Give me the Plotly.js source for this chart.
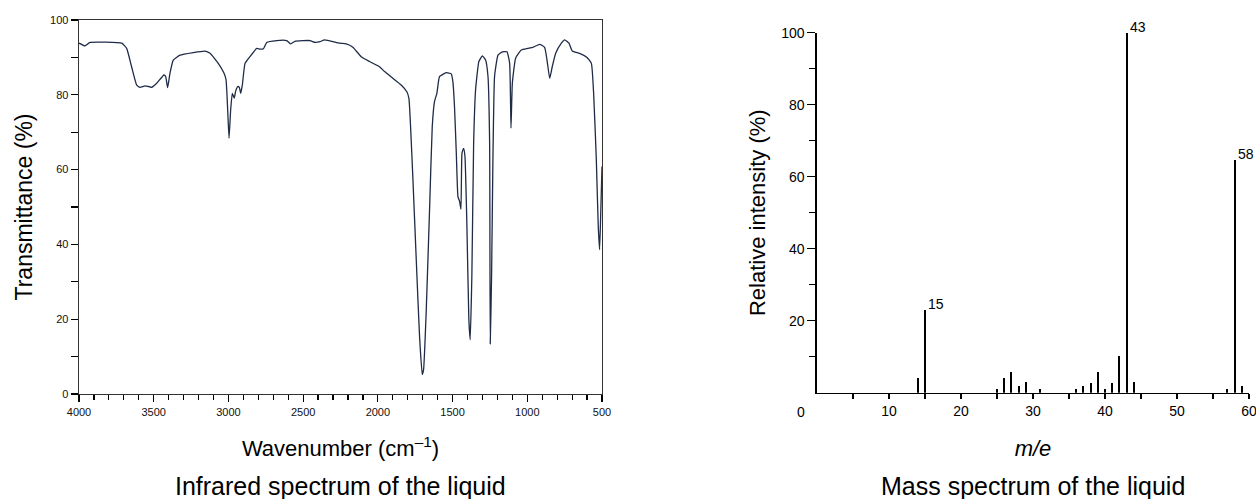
<!DOCTYPE html>
<html><head><meta charset="utf-8">
<script src="https://cdn.plot.ly/plotly-3.0.1.min.js"></script>
<style>html,body{margin:0;padding:0;background:#fff;}#chart{width:1256px;height:499px;}</style>
</head><body><div id="chart"></div>
<script>
// Infrared spectrum (wavenumber cm^-1, transmittance %)
var irWavenumber = [4000, 3960, 3926, 3714, 3681, 3648, 3614, 3592, 3558, 3514,
  3480, 3431, 3420, 3407, 3391, 3369, 3324, 3235, 3157, 3123,
  3068, 3030, 3016, 3005, 2996, 2985, 2974, 2961, 2952, 2938,
  2927, 2918, 2907, 2889, 2856, 2811, 2789, 2766, 2744, 2677,
  2610, 2583, 2555, 2454, 2421, 2387, 2357, 2257, 2212, 2167,
  2112, 2056, 1989, 1955, 1900, 1844, 1806, 1792, 1781, 1766,
  1743, 1721, 1703, 1694, 1676, 1654, 1636, 1621, 1605, 1587,
  1542, 1509, 1498, 1487, 1475, 1464, 1453, 1444, 1437, 1426,
  1417, 1404, 1391, 1382, 1371, 1359, 1346, 1324, 1301, 1279,
  1263, 1252, 1248, 1239, 1230, 1219, 1196, 1167, 1136, 1118,
  1109, 1100, 1078, 1040, 996, 962, 917, 884, 868, 850,
  833, 810, 772, 750, 721, 699, 650, 600, 571, 556,
  538, 525, 516, 509, 500];
var irTransmittance = [93.8, 93.1, 94.0, 93.8, 92.4, 87.5, 82.6, 82.0, 82.4, 82.0,
  83.1, 85.3, 84.9, 81.9, 85.8, 89.3, 90.6, 91.3, 91.7, 91.1,
  88.4, 85.8, 84.0, 76.0, 68.4, 76.0, 80.4, 79.1, 80.9, 82.2,
  82.0, 80.4, 82.6, 88.4, 90.2, 92.4, 92.2, 92.3, 94.0, 94.5,
  94.5, 93.6, 94.3, 94.5, 94.0, 94.2, 94.7, 93.8, 93.6, 92.7,
  90.2, 88.9, 87.5, 86.2, 84.4, 82.6, 80.8, 79.0, 71.5, 58.1,
  35.9, 15.4, 5.2, 6.5, 22.5, 49.3, 71.5, 78.2, 80.4, 84.9,
  85.9, 85.6, 83.5, 76.8, 64.4, 52.8, 51.5, 49.4, 64.4, 65.7,
  63.5, 44.8, 19.9, 14.5, 31.4, 67.1, 81.3, 88.9, 90.4, 89.3,
  84.9, 67.1, 13.4, 31.4, 62.7, 84.9, 90.6, 91.5, 91.5, 88.4,
  71.1, 83.1, 89.8, 92.0, 92.4, 92.7, 93.5, 92.7, 89.3, 84.4,
  87.5, 91.1, 93.8, 94.7, 93.8, 91.7, 91.1, 90.0, 88.4, 80.4,
  62.7, 44.8, 38.6, 47.5, 60.8];
var irTickVals = [4000, 3500, 3000, 2500, 2000, 1500, 1000, 500];
var irYTickVals = [0, 20, 40, 60, 80, 100];

// Mass spectrum (m/e, relative intensity %)
var msMass = [14, 15, 25, 26, 27, 28, 29, 31, 36, 37, 38, 39, 40, 41, 42, 43, 44, 57, 58, 59];
var msIntensity = [4.0, 23.0, 1.0, 4.0, 5.8, 1.9, 2.9, 1.0, 1.0, 1.9, 2.7, 5.8, 1.0, 2.7, 10.1, 100, 2.9, 1.0, 64.6, 1.9];
var msLabeled = [15, 43, 58];
var msXTickVals = [10, 20, 30, 40, 50, 60];
var msYTickVals = [20, 40, 60, 80, 100];

var W = 1256, H = 499;
function px(x){ return x / W; }
function py(y){ return (H - y) / H; }

var FONT = 'Liberation Sans, Arial, Helvetica, sans-serif';

var traces = [
  {
    type: 'scatter', mode: 'lines', x: irWavenumber, y: irTransmittance,
    line: {color: '#1f2b47', width: 1.3, shape: 'spline', smoothing: 0.4},
    xaxis: 'x', yaxis: 'y', hoverinfo: 'x+y', showlegend: false
  },
  {
    type: 'bar', x: msMass, y: msIntensity, width: 0.28,
    marker: {color: '#000', line: {width: 0}},
    xaxis: 'x2', yaxis: 'y2', showlegend: false
  }
];

var annotations = [];
msLabeled.forEach(function(m){
  var idx = msMass.indexOf(m);
  annotations.push({
    x: m, y: msIntensity[idx], xref: 'x2', yref: 'y2', text: String(m),
    showarrow: false, xanchor: 'left', yanchor: 'middle', xshift: 1, yshift: 6,
    font: {family: FONT, size: 14, color: '#000'}
  });
});
annotations.push({
  x: 0, y: py(412), xref: 'x2', yref: 'paper', text: '0', showarrow: false,
  xanchor: 'center', yanchor: 'middle', xshift: -16,
  font: {family: FONT, size: 14, color: '#000'}
});
annotations.push({
  x: px(340), y: py(486), xref: 'paper', yref: 'paper', text: 'Infrared spectrum of the liquid',
  showarrow: false, xanchor: 'center', yanchor: 'middle',
  font: {family: FONT, size: 25, color: '#000'}
});
annotations.push({
  x: px(1033), y: py(486), xref: 'paper', yref: 'paper', text: 'Mass spectrum of the liquid',
  showarrow: false, xanchor: 'center', yanchor: 'middle',
  font: {family: FONT, size: 25, color: '#000'}
});

var layout = {
  width: W, height: H,
  margin: {l: 0, r: 0, t: 0, b: 0},
  paper_bgcolor: '#fff', plot_bgcolor: '#fff',
  font: {family: FONT, color: '#000'},
  showlegend: false,
  bargap: 0,
  xaxis: {
    domain: [px(79), px(602)], anchor: 'y',
    range: [4000, 500], autorange: false,
    tickmode: 'array', tickvals: irTickVals,
    ticks: 'outside', ticklen: 7, tickwidth: 1.2, tickcolor: '#000',
    minor: {dtick: 100, tick0: 0, ticks: 'outside', ticklen: 5, tickwidth: 1.2, tickcolor: '#000', showgrid: false},
    showgrid: false, zeroline: false,
    showline: true, linecolor: '#333', linewidth: 1.4, mirror: true,
    tickfont: {family: FONT, size: 11, color: '#111'},
    title: {text: 'Wavenumber (cm<sup>\u20131</sup>)', font: {family: FONT, size: 22, color: '#000'}, standoff: 24}
  },
  yaxis: {
    domain: [py(394), py(20)], anchor: 'x',
    range: [0, 100], autorange: false,
    tickmode: 'array', tickvals: irYTickVals,
    ticks: 'outside', ticklen: 7, tickwidth: 1.2, tickcolor: '#000',
    minor: {dtick: 10, tick0: 0, ticks: 'outside', ticklen: 7, tickwidth: 1.2, tickcolor: '#000', showgrid: false},
    showgrid: false, zeroline: false,
    showline: true, linecolor: '#333', linewidth: 1.4, mirror: true,
    tickfont: {family: FONT, size: 11, color: '#111'},
    title: {text: 'Transmittance (%)', font: {family: FONT, size: 23, color: '#000'}, standoff: 11}
  },
  xaxis2: {
    domain: [px(817), px(1249)], anchor: 'y2',
    range: [0, 60.001], autorange: false,
    tickmode: 'array', tickvals: msXTickVals,
    ticklabeloverflow: 'allow',
    ticks: 'outside', ticklen: 5, tickwidth: 1.4, tickcolor: '#000',
    minor: {tickvals: [5, 15, 25, 35, 45, 55], ticks: 'outside', ticklen: 5, tickwidth: 1.4, tickcolor: '#000', showgrid: false},
    showgrid: false, zeroline: false,
    showline: true, linecolor: '#000', linewidth: 1.6, mirror: false,
    tickfont: {family: FONT, size: 14, color: '#000'},
    title: {text: '<i>m/e</i>', font: {family: FONT, size: 22, color: '#000'}, standoff: 22}
  },
  yaxis2: {
    domain: [py(392.7), py(32.7)], anchor: 'x2',
    range: [0, 100], autorange: false,
    tickmode: 'array', tickvals: msYTickVals,
    ticks: 'outside', ticklen: 8, tickwidth: 1.4, tickcolor: '#000',
    minor: {tickvals: [10, 30, 50, 70, 90], ticks: 'outside', ticklen: 6, tickwidth: 1.4, tickcolor: '#000', showgrid: false},
    showgrid: false, zeroline: false,
    showline: true, linecolor: '#000', linewidth: 1.6, mirror: false,
    tickfont: {family: FONT, size: 14, color: '#000'},
    title: {text: 'Relative intensity (%)', font: {family: FONT, size: 22, color: '#000'}, standoff: 9}
  },
  annotations: annotations
};

Plotly.newPlot('chart', traces, layout, {displayModeBar: false, staticPlot: true});
</script>
</body></html>
